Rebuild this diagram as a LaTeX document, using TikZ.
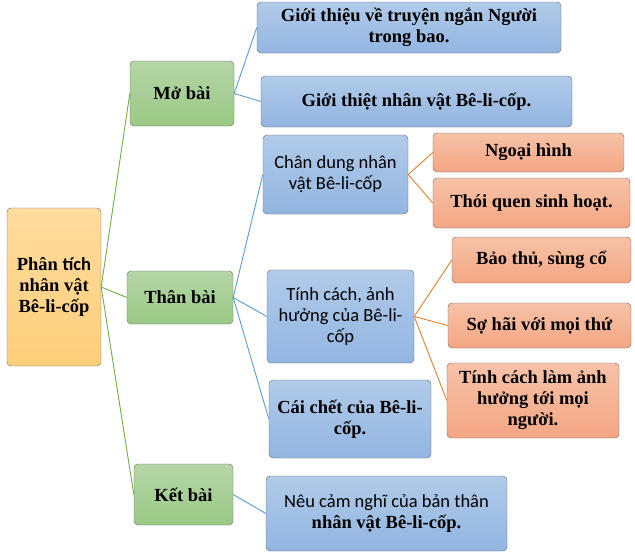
\documentclass[tikz,border=0pt]{standalone}
\usepackage{fontspec}
\setmainfont{Liberation Serif}
\newfontfamily\calibri{Carlito}
\definecolor{grtop}{HTML}{B5D6A7}
\definecolor{grbot}{HTML}{9BC985}
\definecolor{bltop}{HTML}{B1CBE9}
\definecolor{blbot}{HTML}{92B5E1}
\definecolor{ortop}{HTML}{F7C2A8}
\definecolor{orbot}{HTML}{F4A683}
\definecolor{yetop}{HTML}{FFDB9E}
\definecolor{yebot}{HTML}{FDCF7A}
\definecolor{grline}{HTML}{70AD47}
\definecolor{blline}{HTML}{5B9BD5}
\definecolor{orline}{HTML}{ED7D31}
\tikzset{
  box/.style={draw=black!60, rounded corners=4pt, align=center, inner sep=2pt,
    font=\fontsize{18.5}{21}\selectfont},
  rootbox/.style={box, top color=yetop, bottom color=yebot},
  partbox/.style={box, top color=grtop, bottom color=grbot},
  ideabox/.style={box, top color=bltop, bottom color=blbot},
  detailbox/.style={box, top color=ortop, bottom color=orbot},
  sz/.style 2 args={minimum width=#1pt, minimum height=#2pt},
}
\begin{document}
\begin{tikzpicture}[x=1pt, y=-1pt]
	\useasboundingbox (0,0) rectangle (635,555);
	% root and the three parts
	\node[rootbox, sz={94}{158}] (root) at (54,287) {\textbf{Phân {\calibri tích}}\\\textbf{nhân vật}\\\textbf{Bê-li-cốp}};
	\node[partbox, sz={104}{65}] (mo) at (182,93.5) {\textbf{Mở bài}};
	\node[partbox, sz={106}{53}] (than) at (180,297.5) {\textbf{Thân bài}};
	\node[partbox, sz={99}{61}] (ket) at (183.5,494.5) {\textbf{Kết bài}};
	% second level
	\node[ideabox, sz={304}{51}] (gioithieu) at (409,27.5) {\textbf{Giới thiệu về truyện ngắn Người}\\\textbf{trong bao.}};
	\node[ideabox, sz={311}{51}] (nhanvat) at (416.5,101.5) {\textbf{Giới thiệt nhân vật Bê-li-cốp.}};
	\node[ideabox, sz={145}{79}] (chandung) at (335.5,174.5) {\calibri Chân dung nhân\\\calibri vật Bê-li-cốp};
	\node[ideabox, sz={147}{93}] (tinhcach) at (340.5,316.5) {\calibri Tính cách, ảnh\\\calibri hưởng của Bê-li-\\\calibri cốp};
	\node[ideabox, sz={162}{78}] (caichet) at (350,419) {\textbf{Cái chết của Bê-li-}\\\textbf{cốp.}};
	\node[ideabox, sz={241}{75}] (camnghi) at (386.5,513.5) {\calibri Nêu cảm nghĩ của bản thân\\\textbf{nhân vật Bê-li-cốp.}};
	% third level
	\node[detailbox, sz={191}{39}] (ngoaihinh) at (528.5,152.5) {\textbf{Ngoại hình}};
	\node[detailbox, sz={197}{50}] (thoiquen) at (531.5,203) {\textbf{Thói quen sinh hoạt.}};
	\node[detailbox, sz={179}{46}] (baothu) at (541.5,260) {\textbf{Bảo thủ, sùng cổ}};
	\node[detailbox, sz={183}{45}] (sohai) at (539.5,325.5) {\textbf{Sợ hãi với mọi thứ}};
	\node[detailbox, sz={172}{75}] (anhhuong) at (533,400.5) {\textbf{Tính cách làm ảnh}\\\textbf{hưởng tới mọi}\\\textbf{người.}};
	% connectors
	\foreach \p in {mo,than,ket}
		\draw[grline, line width=0.9pt] (root.east) -- (\p.west);
	\foreach \a/\b in {mo/gioithieu, mo/nhanvat, than/chandung, than/tinhcach, than/caichet, ket/camnghi}
		\draw[blline, line width=0.9pt] (\a.east) -- (\b.west);
	\foreach \a/\b in {chandung/ngoaihinh, chandung/thoiquen, tinhcach/baothu, tinhcach/sohai, tinhcach/anhhuong}
		\draw[orline, line width=0.9pt] (\a.east) -- (\b.west);
\end{tikzpicture}
\end{document}
